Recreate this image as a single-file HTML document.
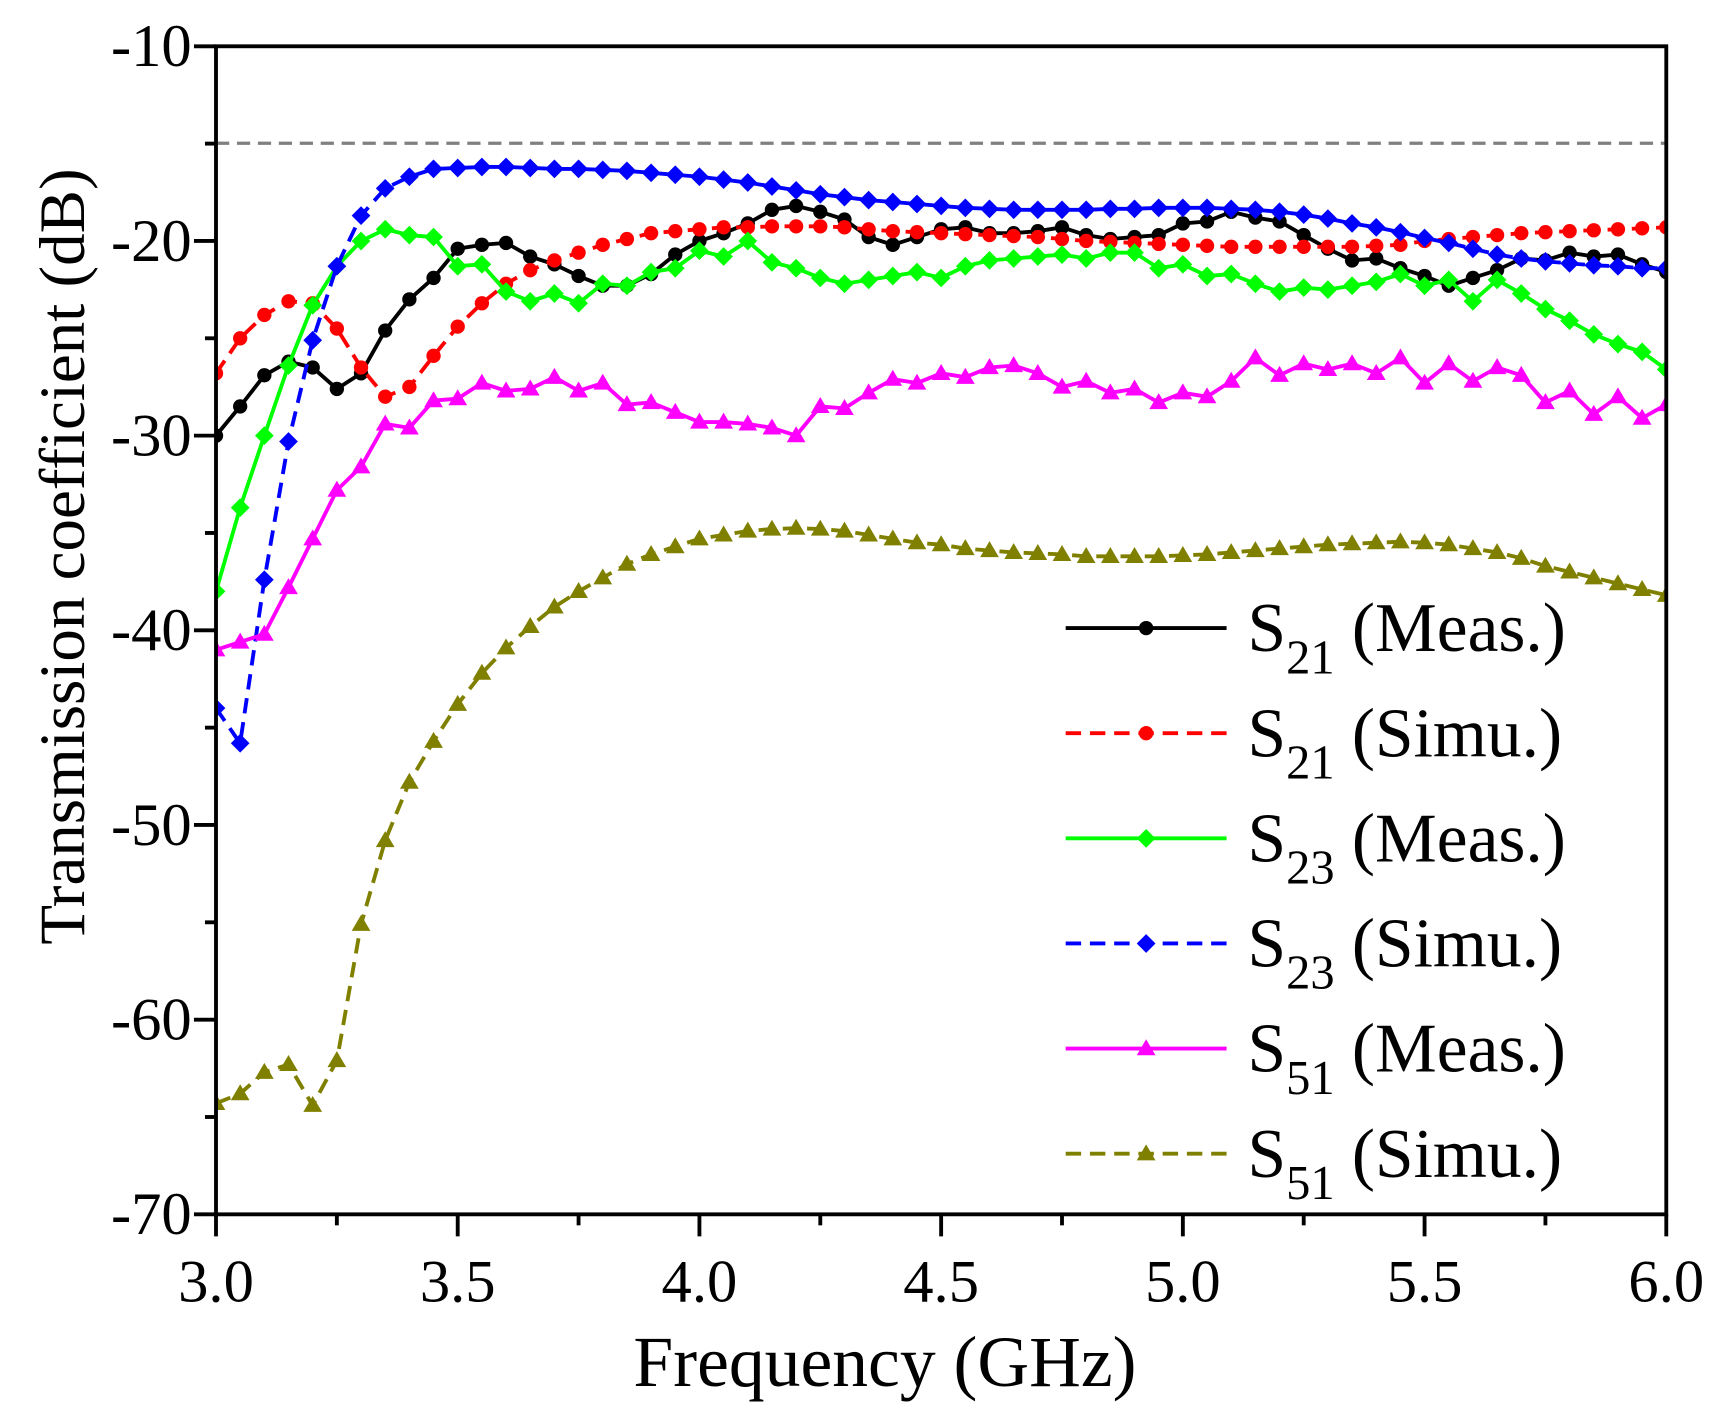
<!DOCTYPE html>
<html><head><meta charset="utf-8"><style>
html,body{margin:0;padding:0;background:#fff}
svg{display:block}
text{font-family:"Liberation Serif",serif;fill:#000}
</style></head><body>
<svg id="s" width="1728" height="1427" viewBox="0 0 1568 1295" preserveAspectRatio="none" xmlns="http://www.w3.org/2000/svg"></svg>
<script>
const X0=196,X1=1512,Y0=42,Y1=1102;
const fx=f=>X0+(f-3)*(X1-X0)/3, fy=d=>Y0+(-10-d)*(Y1-Y0)/60;
const data={
k:[-30,-28.5,-26.9,-26.2,-26.5,-27.6,-26.8,-24.6,-23,-21.9,-20.4,-20.2,-20.1,-20.8,-21.2,-21.8,-22.3,-22.3,-21.7,-20.7,-20,-19.6,-19.1,-18.4,-18.2,-18.5,-18.9,-19.8,-20.2,-19.8,-19.4,-19.3,-19.6,-19.6,-19.5,-19.3,-19.7,-19.9,-19.8,-19.7,-19.1,-19,-18.5,-18.8,-19,-19.7,-20.4,-21,-20.9,-21.4,-21.8,-22.3,-21.9,-21.5,-20.9,-21,-20.6,-20.8,-20.7,-21.2,-21.6],
r:[-26.8,-25,-23.8,-23.1,-23.2,-24.5,-26.5,-28,-27.5,-25.9,-24.4,-23.2,-22.2,-21.5,-21,-20.6,-20.2,-19.9,-19.6,-19.5,-19.4,-19.3,-19.3,-19.25,-19.25,-19.25,-19.3,-19.4,-19.5,-19.55,-19.6,-19.65,-19.7,-19.75,-19.8,-19.9,-20,-20.05,-20.1,-20.15,-20.2,-20.25,-20.3,-20.3,-20.3,-20.3,-20.3,-20.3,-20.25,-20.2,-20,-19.9,-19.8,-19.7,-19.6,-19.55,-19.5,-19.45,-19.4,-19.35,-19.3],
g:[-38,-33.7,-30,-26.4,-23.3,-21.3,-20,-19.4,-19.7,-19.8,-21.3,-21.2,-22.6,-23.1,-22.7,-23.2,-22.2,-22.3,-21.6,-21.4,-20.5,-20.8,-20,-21.1,-21.4,-21.9,-22.2,-22,-21.8,-21.6,-21.9,-21.3,-21,-20.9,-20.8,-20.7,-20.9,-20.6,-20.6,-21.4,-21.2,-21.8,-21.7,-22.2,-22.6,-22.4,-22.5,-22.3,-22.1,-21.7,-22.3,-22,-23.1,-22,-22.7,-23.5,-24.1,-24.8,-25.3,-25.7,-26.6],
b:[-44,-45.8,-37.4,-30.3,-25.1,-21.3,-18.7,-17.3,-16.7,-16.3,-16.25,-16.2,-16.2,-16.25,-16.3,-16.3,-16.35,-16.4,-16.5,-16.6,-16.7,-16.85,-17,-17.2,-17.4,-17.6,-17.75,-17.9,-18,-18.1,-18.2,-18.3,-18.35,-18.4,-18.4,-18.4,-18.4,-18.35,-18.35,-18.3,-18.3,-18.3,-18.35,-18.4,-18.5,-18.65,-18.85,-19.1,-19.3,-19.55,-19.85,-20.1,-20.4,-20.7,-20.9,-21.05,-21.15,-21.25,-21.3,-21.4,-21.4],
m:[-41,-40.6,-40.2,-37.8,-35.3,-32.8,-31.6,-29.4,-29.6,-28.2,-28.1,-27.3,-27.7,-27.6,-27,-27.7,-27.3,-28.4,-28.3,-28.8,-29.3,-29.3,-29.4,-29.6,-30,-28.5,-28.6,-27.8,-27.1,-27.3,-26.8,-27,-26.5,-26.4,-26.8,-27.5,-27.2,-27.8,-27.6,-28.3,-27.8,-28,-27.2,-26,-26.9,-26.3,-26.6,-26.3,-26.8,-26,-27.3,-26.3,-27.2,-26.5,-26.9,-28.3,-27.7,-28.9,-28,-29.1,-28.4],
o:[-64.3,-63.8,-62.7,-62.3,-64.4,-62.1,-55.1,-50.8,-47.8,-45.7,-43.8,-42.2,-40.9,-39.8,-38.8,-38,-37.3,-36.6,-36.1,-35.7,-35.3,-35.1,-34.9,-34.8,-34.75,-34.8,-34.9,-35.1,-35.3,-35.5,-35.6,-35.8,-35.9,-36,-36.05,-36.1,-36.2,-36.2,-36.2,-36.2,-36.15,-36.1,-36,-35.9,-35.8,-35.7,-35.6,-35.55,-35.5,-35.45,-35.5,-35.6,-35.8,-36,-36.3,-36.7,-37,-37.3,-37.6,-37.9,-38.2]};
const ser=[['k','#000','c',0,'(Meas.)','21'],['r','#f00','c',1,'(Simu.)','21'],['g','#0f0','d',0,'(Meas.)','23'],['b','#00f','d',1,'(Simu.)','23'],['m','#f0f','t',0,'(Meas.)','51'],['o','#808000','t',1,'(Simu.)','51']];
let h='';
h+=`<line x1="${X0}" y1="130" x2="${X1}" y2="130" stroke="#808080" stroke-width="3" stroke-dasharray="12,7"/>`;
function mk(t,x,y,c){
 if(t=='c')return `<circle cx="${x}" cy="${y}" r="6.5" fill="${c}"/>`;
 if(t=='d')return `<polygon points="${x},${y-8.5} ${x+8.5},${y} ${x},${y+8.5} ${x-8.5},${y}" fill="${c}"/>`;
 return `<polygon points="${x},${y-8.5} ${x+8.5},${y+6} ${x-8.5},${y+6}" fill="${c}"/>`;
}
h+=`<defs><clipPath id="cp"><rect x="${X0}" y="${Y0}" width="${X1-X0}" height="${Y1-Y0}"/></clipPath></defs><g clip-path="url(#cp)">`;
for(const [k,c,t,d] of ser){
 const a=data[k];let p='';
 a.forEach((v,i)=>{p+=(i?'L':'M')+fx(3+i*0.05).toFixed(1)+','+fy(v).toFixed(1)});
 h+=`<path d="${p}" fill="none" stroke="${c}" stroke-width="3.5" ${d?'stroke-dasharray="14,8"':''} stroke-linejoin="round"/>`;
 a.forEach((v,i)=>{h+=mk(t,fx(3+i*0.05),fy(v),c)});
}
h+='</g>';
h+=`<rect x="${X0}" y="${Y0}" width="${X1-X0}" height="${Y1-Y0}" fill="none" stroke="#000" stroke-width="3.5"/>`;
for(let i=0;i<=12;i++){const x=fx(3+i*0.25),L=i%2?10:20;h+=`<line x1="${x}" y1="${Y1}" x2="${x}" y2="${Y1+L}" stroke="#000" stroke-width="3.5"/>`;
 if(i%2==0)h+=`<text x="${x}" y="${Y1+79}" font-size="55" text-anchor="middle">${(3+i*0.25).toFixed(1)}</text>`;}
for(let i=0;i<=12;i++){const v=-10-i*5,y=fy(v),L=i%2?10:20;h+=`<line x1="${X0-L}" y1="${y}" x2="${X0}" y2="${y}" stroke="#000" stroke-width="3.5"/>`;
 if(i%2==0)h+=`<text x="${X0-22}" y="${y+18}" font-size="55" text-anchor="end">${v}</text>`;}
h+=`<text x="803" y="1258" font-size="65" text-anchor="middle">Frequency (GHz)</text>`;
h+=`<text transform="translate(76,505) rotate(-90)" font-size="59" text-anchor="middle">Transmission coefficient (dB)</text>`;
ser.forEach(([k,c,t,d,lab,sub],i)=>{const y=570+i*95.4;
 h+=`<line x1="967" y1="${y}" x2="1113" y2="${y}" stroke="${c}" stroke-width="3.5" ${d?'stroke-dasharray="14,8"':''}/>`+mk(t,1040,y,c);
 h+=`<text x="1132" y="${y+21}" font-size="63">S<tspan font-size="44" dy="20">${sub}</tspan><tspan dy="-20"> ${lab}</tspan></text>`;});
document.getElementById('s').innerHTML=h;
</script>
</body></html>
